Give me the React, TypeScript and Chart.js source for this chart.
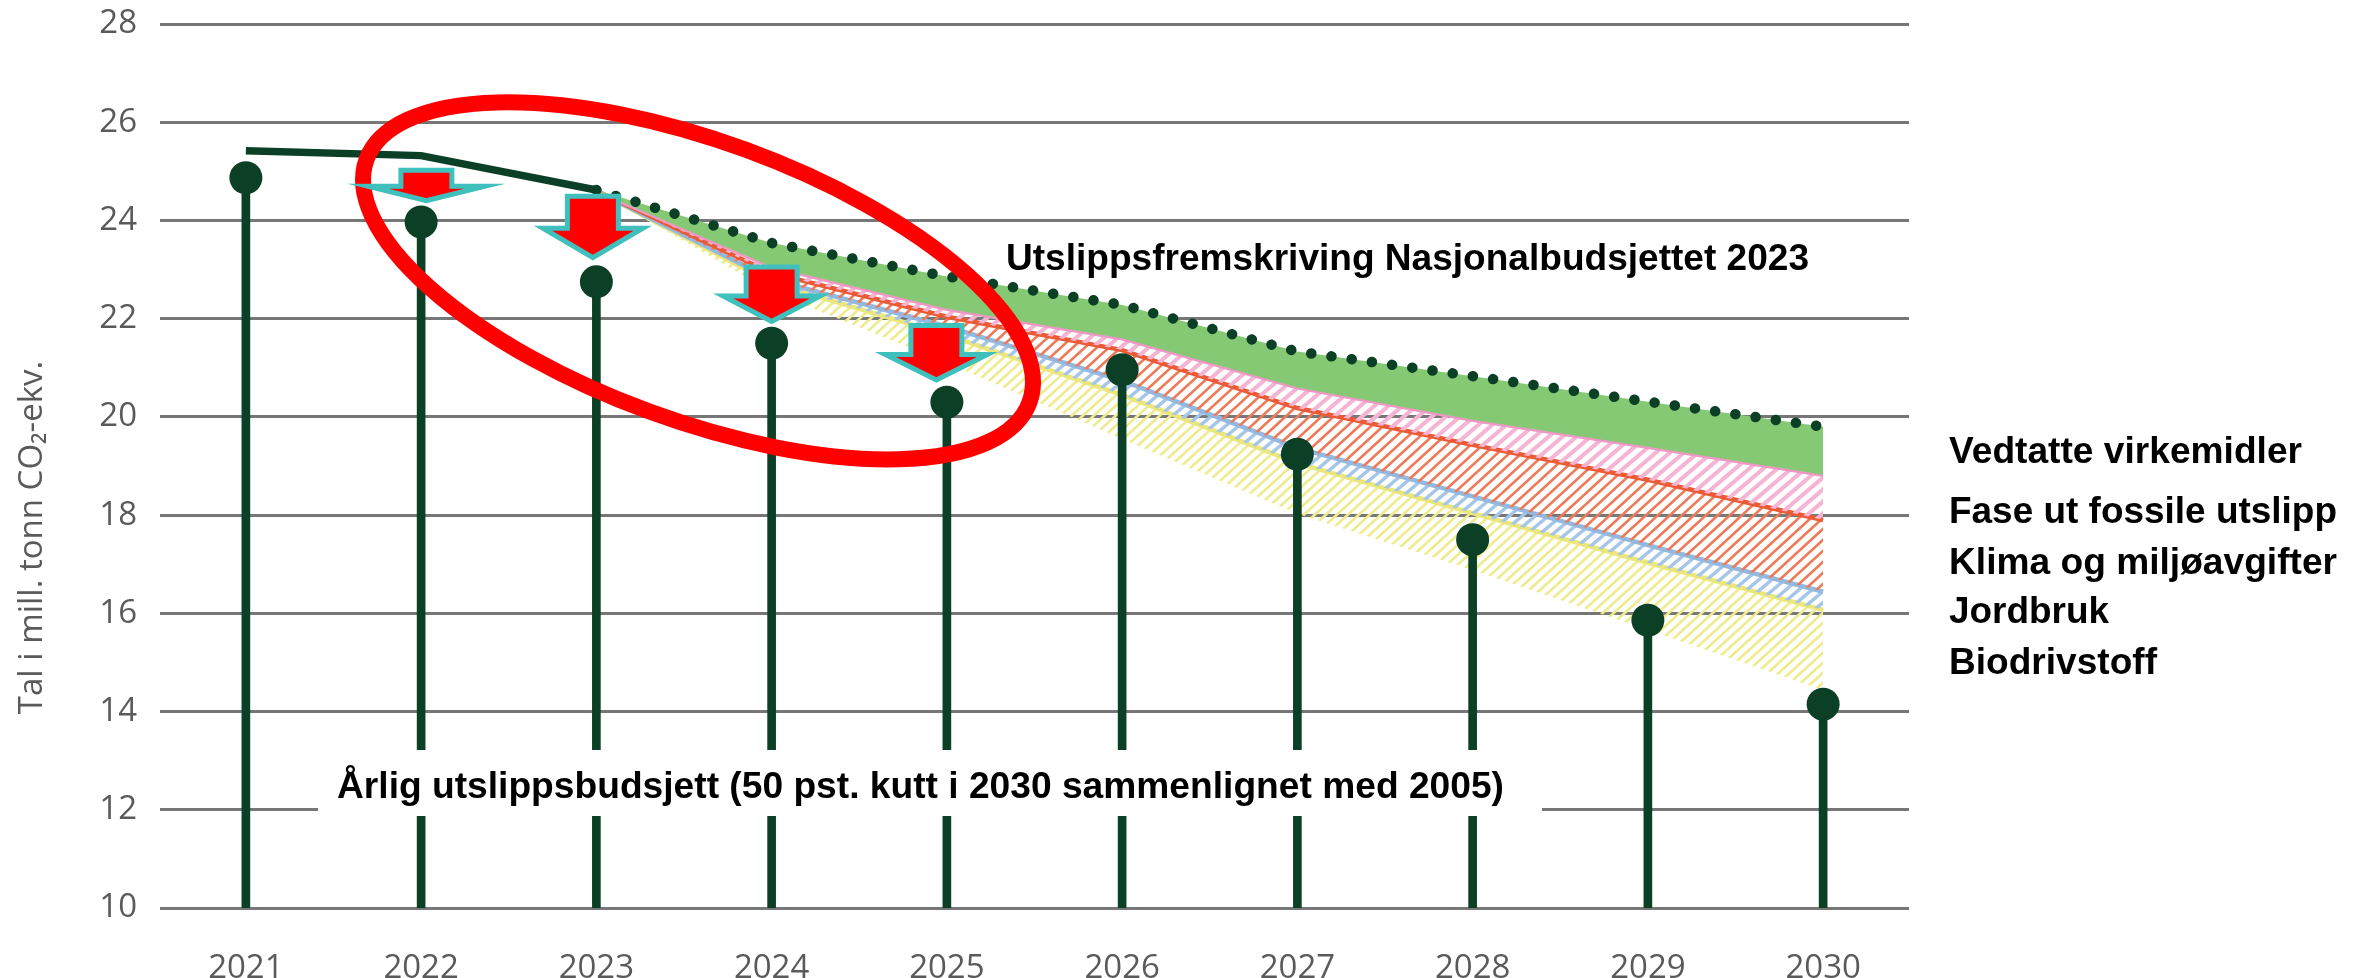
import React, { useEffect, useRef } from "react";
import { Chart, registerables } from "chart.js";

Chart.register(...registerables);

const years = [2021, 2022, 2023, 2024, 2025, 2026, 2027, 2028, 2029, 2030];
const budget = [24.87, 23.97, 22.75, 21.5, 20.3, 20.96, 19.24, 17.5, 15.86, 14.15];

const historyYears = [2021, 2022, 2023];
const history = [25.42, 25.32, 24.62];

const scenarioYears = [2023, 2024, 2025, 2026, 2027, 2028, 2029, 2030];
const projection = [24.62, 23.54, 22.86, 22.28, 21.33, 20.83, 20.31, 19.8];
const adopted = [24.6, 23.06, 22.2, 21.6, 20.6, 19.94, 19.39, 18.82];
const fossil = [24.6, 22.93, 22.04, 21.36, 20.18, 19.43, 18.72, 17.9];
const taxes = [24.6, 22.8, 21.84, 20.74, 19.37, 18.38, 17.39, 16.44];
const farming = [24.6, 22.73, 21.67, 20.45, 19.06, 18.04, 17.03, 16.07];
const biofuel = [24.6, 22.55, 21.1, 19.55, 18.03, 16.88, 15.66, 14.44];

const yTicks = [10, 12, 14, 16, 18, 20, 22, 24, 26, 28];
const yTitle = "Tal i mill. tonn CO₂-ekv.";
const projectionLabel = "Utslippsfremskriving Nasjonalbudsjettet 2023";
const budgetLabel = "Årlig utslippsbudsjett (50 pst. kutt i 2030 sammenlignet med 2005)";
const legendLabels = ["Vedtatte virkemidler", "Fase ut fossile utslipp", "Klima og miljøavgifter", "Jordbruk", "Biodrivstoff"];
const legendWidths = [353, 388, 388, 160, 208];
const legendBaselines = [463, 523, 574, 623, 674];

const arrowYears = [2022.03, 2022.98, 2024.0, 2024.94];
const arrowTips = [24.3, 23.14, 21.84, 20.65];
const arrowHeights = [38, 69, 62, 62];
const arrowHeadHeights = [22, 37, 33, 33];
const arrowWidths = [135, 118, 115, 120];

const DARK = "#0b3f26";
const GREY = "#5a5a5a";
const FONT_BOLD = "'Liberation Sans'";

function hatch(color: string, w: number, h: number, lw: number) {
  const c = document.createElement("canvas");
  c.width = w;
  c.height = h;
  const g = c.getContext("2d")!;
  g.strokeStyle = color;
  g.lineWidth = lw;
  g.beginPath();
  for (const dx of [-w, 0, w]) {
    g.moveTo(dx - w, 2 * h);
    g.lineTo(dx + 2 * w, -h);
  }
  g.stroke();
  return g.createPattern(c, "repeat")!;
}

function fitText(ctx: CanvasRenderingContext2D, text: string, x: number, baseline: number, width: number) {
  ctx.save();
  ctx.font = `bold 36px ${FONT_BOLD}`;
  ctx.fillStyle = "#000";
  ctx.textAlign = "left";
  ctx.textBaseline = "alphabetic";
  const m = ctx.measureText(text).width;
  ctx.translate(x, baseline);
  ctx.scale(width / m, 1);
  ctx.fillText(text, 0, 0);
  ctx.restore();
}

const overlay = {
  id: "overlay",
  afterDraw(chart: any) {
    const ctx: CanvasRenderingContext2D = chart.ctx;
    const xs = chart.scales.x;
    const ys = chart.scales.y;

    // axis title
    ctx.save();
    ctx.translate(42, 537.5);
    ctx.rotate(-Math.PI / 2);
    ctx.font = "33px 'Open Sans'";
    ctx.fillStyle = GREY;
    ctx.textAlign = "center";
    ctx.textBaseline = "alphabetic";
    ctx.fillText(yTitle, 0, 0);
    ctx.restore();

    // white box behind the budget label
    ctx.fillStyle = "#fff";
    ctx.fillRect(318, 750, 1224, 66);
    fitText(ctx, budgetLabel, 337, 798, 1167);
    fitText(ctx, projectionLabel, 1006, 270, 803);
    legendLabels.forEach((t, i) => fitText(ctx, t, 1949, legendBaselines[i], legendWidths[i]));

    // red ellipse
    ctx.save();
    ctx.beginPath();
    ctx.ellipse(xs.getPixelForValue(2023.58), ys.getPixelForValue(22.77), 353, 139.5, (20.1 * Math.PI) / 180, 0, Math.PI * 2);
    ctx.strokeStyle = "#ff0000";
    ctx.lineWidth = 16;
    ctx.stroke();
    ctx.restore();

    // arrows
    arrowYears.forEach((yr, i) => {
      const tx = xs.getPixelForValue(yr);
      const ty = ys.getPixelForValue(arrowTips[i]) - 5;
      const top = ty + 5 - arrowHeights[i] + 2.5;
      const sh = ty + 5 - arrowHeadHeights[i] + 2.5;
      const hw = arrowWidths[i] / 2 - 9;
      const sw = 25.5;
      ctx.save();
      ctx.beginPath();
      ctx.moveTo(tx - sw, top);
      ctx.lineTo(tx + sw, top);
      ctx.lineTo(tx + sw, sh);
      ctx.lineTo(tx + hw, sh);
      ctx.lineTo(tx, ty);
      ctx.lineTo(tx - hw, sh);
      ctx.lineTo(tx - sw, sh);
      ctx.closePath();
      ctx.fillStyle = "#ff0000";
      ctx.fill();
      ctx.lineJoin = "miter";
      ctx.miterLimit = 10;
      ctx.lineWidth = 5;
      ctx.strokeStyle = "#3fc0bd";
      ctx.stroke();
      ctx.restore();
    });
  },
};

export default function App() {
  const ref = useRef<HTMLCanvasElement>(null);
  useEffect(() => {
    const pts = (xs: number[], ys: number[]) => xs.map((x, i) => ({ x, y: ys[i] }));
    const area = (label: string, values: number[], color: string, bg: any, order: number) => ({
      type: "line" as const,
      label,
      data: pts(scenarioYears, values),
      borderColor: color,
      borderWidth: 4.5,
      backgroundColor: bg,
      fill: "+1",
      pointRadius: 0,
      tension: 0,
      order,
    });
    const chart = new Chart(ref.current!, {
      type: "line",
      data: {
        datasets: [
          {
            type: "line",
            label: "Utslippsfremskriving",
            data: pts(scenarioYears, projection),
            borderColor: DARK,
            borderWidth: 10.5,
            borderDash: [0.1, 20.3],
            borderCapStyle: "round",
            backgroundColor: "#86c974",
            fill: "+1",
            pointRadius: 0,
            tension: 0,
            order: 6,
          },
          area(legendLabels[0], adopted, "#ee98c4", hatch("#f6b4d5", 14, 12, 4), 7),
          area(legendLabels[1], fossil, "#ea5a34", hatch("#ef7a5a", 12, 11, 2.7), 8),
          area(legendLabels[2], taxes, "#93b9e0", hatch("#a5c6e8", 13, 11, 3.4), 9),
          area(legendLabels[3], farming, "#ece77a", hatch("#efeb8f", 11, 10, 2.7), 10),
          {
            type: "line",
            label: legendLabels[4],
            data: pts(scenarioYears, biofuel),
            borderWidth: 0,
            borderColor: "rgba(0,0,0,0)",
            pointRadius: 0,
            tension: 0,
            fill: false,
            order: 11,
          },
          {
            type: "line",
            label: "Historikk",
            data: pts(historyYears, history),
            borderColor: DARK,
            borderWidth: 7.5,
            pointRadius: 0,
            tension: 0,
            fill: false,
            order: 5,
          },
          {
            type: "bar",
            label: "Stolper",
            data: pts(years, budget),
            backgroundColor: DARK,
            barThickness: 8,
            order: 2,
          },
          {
            type: "line",
            label: "Årlig utslippsbudsjett",
            data: pts(years, budget),
            showLine: false,
            pointRadius: 16.5,
            pointBackgroundColor: DARK,
            pointBorderWidth: 0,
            order: 1,
          },
        ],
      } as any,
      options: {
        responsive: false,
        animation: false,
        layout: { padding: { top: 24, right: 457, left: 0, bottom: 0 } },
        plugins: { legend: { display: false }, tooltip: { enabled: false }, title: { display: false } },
        scales: {
          x: {
            type: "linear",
            min: 2020.51,
            max: 2030.49,
            offset: false,
            afterBuildTicks: (s: any) => {
              s.ticks = years.map((v) => ({ value: v }));
            },
            afterFit: (s: any) => {
              s.height = 70;
              s.paddingLeft = 0;
              s.paddingRight = 0;
            },
            grid: { display: false },
            border: { display: false },
            ticks: {
              autoSkip: false,
              maxRotation: 0,
              padding: 33,
              color: GREY,
              font: { family: "'Open Sans'", size: 33 },
              callback: (v: any) => String(v),
            },
          },
          y: {
            type: "linear",
            min: 10,
            max: 28,
            afterBuildTicks: (s: any) => {
              s.ticks = yTicks.map((v) => ({ value: v }));
            },
            afterFit: (s: any) => {
              s.width = 160;
              s.paddingTop = 0;
              s.paddingBottom = 0;
            },
            grid: { color: "#777777", lineWidth: 3, drawTicks: false },
            border: { display: false },
            ticks: {
              padding: 23,
              color: GREY,
              font: { family: "'Open Sans'", size: 33 },
            },
          },
        },
      },
      plugins: [overlay],
    } as any);
    return () => chart.destroy();
  }, []);
  return (
    <div style={{ position: "absolute", left: 0, top: 0, width: 2366, height: 978, background: "#fff" }}>
      <canvas ref={ref} width={2366} height={978} style={{ display: "block" }} />
    </div>
  );
}
